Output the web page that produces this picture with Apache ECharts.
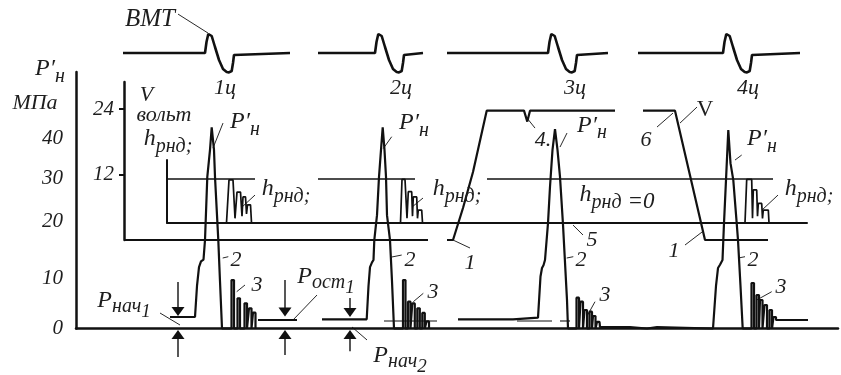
<!DOCTYPE html>
<html>
<head>
<meta charset="utf-8">
<script src="https://cdn.jsdelivr.net/npm/echarts@6/dist/echarts.min.js"></script>
<style>
  html, body { margin: 0; padding: 0; background: #fff; }
  #chart { width: 841px; height: 375px; }
</style>
</head>
<body>
<div id="chart"></div>
<script>
const INK = '#111';
const FONT = 'Liberation Serif';

// t = time (arbitrary units, shared by all traces), P in MPa, V in volts, h relative lift
const pressureTickLabels = ['0', '10', '20', '30', '40'];
const pressureTickAt = [0, 10.6, 22.6, 31.7, 40.2];   // where the figure places its labels
const voltTickAt = [12, 24];

// TDC (ВМТ) marker signal, one piece per cycle
const bmt1 = [[47,0],[129,0],[130.5,0.55],[132.3,0.95],[134,1],[135.7,0.85],[139,0.3],[143,-0.35],[147,-0.8],[150.7,-0.95],[153,-0.97],[155.7,-0.9],[157,-0.5],[158,-0.1],[159,0],[214,0]];
const bmt2 = [[242,0],[299,0],[300.5,0.55],[302.3,0.95],[304,1],[305.7,0.85],[309,0.3],[313,-0.35],[317,-0.8],[320.7,-0.95],[323,-0.97],[325.7,-0.9],[327,-0.5],[328,-0.1],[329,0],[347,0]];
const bmt3 = [[371,0],[472,0],[473.5,0.55],[475.3,0.95],[477,1],[478.7,0.85],[482,0.3],[486,-0.35],[490,-0.8],[493.7,-0.95],[496,-0.97],[498.7,-0.9],[500,-0.5],[501,-0.1],[502,0],[532,0]];
const bmt4 = [[562,0],[647,0],[648.5,0.55],[650.3,0.95],[652,1],[653.7,0.85],[657,0.3],[661,-0.35],[665,-0.8],[668.7,-0.95],[671,-0.97],[673.7,-0.9],[675,-0.5],[676,-0.1],[677,0],[724,0]];

// injector pressure P'н
const pressure1 = [[94,2.43],[119,2.43],[121,9],[123,13],[125,14.2],[127.5,14.6],[129,18.7],[131.3,32.1],[134,37.8],[135.7,42.6],[138,37.8],[139,32.1],[142.3,18.7],[144,10],[146,0],
  [155.5,0],[155.5,10.26],[158,10.26],[158,0],[161.5,0],[161.5,6.39],[164,6.39],[164,0],
  [168.5,0],[168.5,5.33],[171,5.33],[171,0],[173,0],[173,4.28],[175.5,4.28],[175.5,0],
  [177,0],[177,3.34],[179.5,3.34],[179.5,0]];
const residual1 = [[182,1.8],[221,1.8]];
const pressure2 = [[246,1.95],[290.7,1.95],[292.5,9],[294,13],[296,14],[297.5,14.5],[298.3,18.7],[301,24],[303,32.1],[305,37.8],[306.7,42.6],[308.5,37.8],[310,32.1],[311,24],[314,18.7],[316,10],[318,0],
  [327,0],[327,10.26],[329.5,10.26],[329.5,0],[332,0],[332,5.67],[334.5,5.67],[334.5,0],
  [336.3,0],[336.3,5.3],[338.8,5.3],[338.8,0],[341.3,0],[341.3,4.28],[343.8,4.28],[343.8,0],
  [346.3,0],[346.3,3.3],[348.8,3.3],[348.8,0],[350.5,0],[350.5,1.5],[353,1.5],[353,0]];
const pressure34 = [[382,1.95],[437,1.95],[437,2.29],[462,2.29],[464.5,11],[466,12.8],[467.5,13.4],[469,14.5],[472,22.3],[474,30],[476.5,37.8],[479,42.2],[481.5,37.8],[484,32.1],[487,22],[489,14],[491,6],[492,0],
  [500.5,0],[500.5,6.52],[503,6.52],[503,0],[504.5,0],[504.5,5.67],[507,5.67],[507,0],
  [508.5,0],[508.5,3.92],[511,3.92],[511,0],[513.5,0],[513.5,3.56],[516,3.56],[516,0],
  [517,0],[517,2.65],[519.5,2.65],[519.5,0],[521,0],[521,1.4],[523.5,1.4],[524,0.3],[554,0.3],[554,0],
  [571,0],[571,0.3],[581,0.3],[581,0],[637,0],
  [640,9],[642,12.8],[644,13.5],[646.5,14.5],[648,22.3],[650,31.4],[652.3,42],[654.5,35],[657.3,31.4],[660.7,22.3],[662,18.7],[664.5,9],[666.7,0],
  [675.5,0],[675.5,9.63],[678,9.63],[678,0],[680.5,0],[680.5,7.09],[683,7.09],[683,0],
  [684,0],[684,6.03],[686.5,6.03],[686.5,0],[688.5,0],[688.5,4.97],[691,4.97],[691,0],
  [693.5,0],[693.5,3.92],[696,3.92],[696,0],[697.5,0],[697.5,2.43],[700,2.43],[700,1.8],[732,1.8]];
const residualThin = [[[308,1.59],[361,1.59]], [[441,1.59],[476,1.59]], [[484,1.59],[494,1.59]]];

// control voltage V
const volt1 = [[48,0],[352,0]];
const volt2 = [[371,0],[377,0],[387,5.86],[397,12.46],[410.7,23.7],[448,23.7],[451.3,21.7],[454,23.7],[539,23.7]];
const volt3 = [[567,23.7],[599,23.7],[629,0],[692,0]];

// needle lift hрнд
const lift1 = [[150.5,0],[153,0.98],[157,0.98],[159,0.1],[161,0.7],[164.5,0.7],[166,0.15],[167,0.59],[169.5,0.59],[170.5,0.2],[171.5,0.41],[174.5,0.41],[175.5,0]];
const lift2 = [[324.5,0],[326,0.99],[329,0.99],[331,0.1],[332.3,0.71],[335.7,0.71],[336.5,0.15],[337.3,0.59],[340.7,0.59],[341.5,0.1],[342.3,0.29],[345.7,0.29],[346.5,0]];
const lift4 = [[669,0],[670.7,0.99],[675.7,0.99],[676.5,0.1],[677.3,0.75],[680.7,0.75],[681.5,0.15],[682.3,0.44],[685.7,0.44],[686.5,0.1],[687.3,0.29],[692.3,0.29],[693,0]];
const liftLevel = [[[74,1],[179,1]], [[242,1],[339,1]], [[411,1],[697,1]]];

// arrows for Pнач / Pост (P scale)
const arrowShafts = [
  [[102,9.84],[102,4.55]], [[102,-2],[102,-6.03]],
  [[209,10.26],[209,4.34]], [[209,-2],[209,-5.6]],
  [[274,6.46],[274,4.34]], [[274,-2],[274,-4.8]]
];
const arrowDown = [[102,3.6],[209,3.5],[274,3.4]];
const arrowUp = [[102,-1.27],[209,-1.27],[274,-1.27]];

// leader lines (P scale)
const leaders = [
  [[102,66.56],[132,62.54]],
  [[147,43.49],[137,38.2]], [[315.7,40.6],[307.3,38.1]], [[491,41.38],[484,38.41]], [[665.7,36.72],[659,35.66]],
  [[459,42.43],[451,44.55]], [[581,42.65],[597,45.61]], [[621,46.88],[604,43.49]],
  [[179,28.25],[166,25.71]], [[347,27.62],[336,25.71]], [[702,28.25],[686,25.08]],
  [[394,17.04],[377,18.73]], [[609,17.67],[626,20.42]], [[507,19.79],[497,21.9]],
  [[146.7,14.92],[152.3,15.2]], [[315.7,15.13],[325.7,15.55]], [[490.7,14.92],[497.3,15.2]], [[662.3,14.92],[669,15.2]],
  [[169,9.21],[160.7,7.79]], [[347.3,7.45],[337.3,5.67]], [[519,5.67],[510.7,2.5]], [[695.7,7.79],[680.7,6.03]],
  [[84,3.28],[104,0.74]], [[241,7.09],[217,1.8]], [[291,-2.43],[276,0.32]]
];

// text notes [t, P, rich text]
const notes = [
  [74, 65.4, '{c|ВМТ}'],
  [149, 50.9, '{n|1ц}'], [325, 50.9, '{n|2ц}'], [499, 50.9, '{n|3ц}'], [672, 50.9, '{n|4ц}'],
  [-26, 54.3, '{b|P′}{s|н}'],
  [-41, 47.7, '{n|МПа}'],
  [70.5, 49.4, '{n|V}'],
  [88, 45.2, '{n|вольт}'],
  [92, 39.5, '{b|h}{s|рнд;}'],
  [169, 43.1, '{b|P′}{s|н}'], [338, 42.9, '{b|P′}{s|н}'], [516, 42.4, '{b|P′}{s|н}'], [686, 39.5, '{b|P′}{s|н}'],
  [467, 39.9, '{n|4.}'],
  [570, 39.9, '{n|6}'],
  [629, 46.2, '{u|V}'],
  [210, 28.9, '{b|h}{s|рнд;}'], [381, 28.9, '{b|h}{s|рнд;}'], [733, 28.9, '{b|h}{s|рнд;}'],
  [541, 27.6, '{b|h}{s|рнд}{m| =0}'],
  [394, 13.9, '{n|1}'], [598, 16.4, '{n|1}'],
  [516, 18.7, '{n|5}'],
  [160, 14.5, '{n|2}'], [334, 14.5, '{n|2}'], [505, 14.5, '{n|2}'], [677, 14.5, '{n|2}'],
  [181, 9.2, '{n|3}'], [357, 7.7, '{n|3}'], [529, 7.1, '{n|3}'], [705, 8.8, '{n|3}'],
  [48, 5.0, '{bp|P}{sp|нач}{x|1}'],
  [250, 10.05, '{bp|P}{sp|ост}{x|1}'],
  [324, -6.67, '{bp|P}{sp|нач}{x|2}']
];

const txt = (size, extra) => Object.assign({
  fontFamily: FONT, fontStyle: 'italic', fontSize: size, color: '#1e1e1e', verticalAlign: 'bottom'
}, extra || {});
const rich = {
  n: txt(22),
  c: txt(25),
  b: txt(24, { padding: [0, 0, 6, 0] }),
  s: txt(20),
  m: txt(23),
  u: txt(23, { fontStyle: 'normal' }),
  bp: txt(24, { padding: [0, 0, 9, 0] }),
  sp: txt(20, { padding: [0, 0, 5, 0] }),
  x: txt(19)
};

function trace(data, axis, width) {
  return {
    type: 'line', xAxisIndex: axis, yAxisIndex: axis, data: data,
    symbol: 'none', clip: false, silent: true, animation: false,
    lineStyle: { color: INK, width: width }
  };
}

const series = [];
[bmt1, bmt2, bmt3, bmt4].forEach(d => series.push(trace(d, 3, 2.6)));
[volt1, volt2, volt3].forEach(d => series.push(trace(d, 1, 2.2)));
liftLevel.forEach(d => series.push(trace(d, 2, 1.5)));
[lift1, lift2, lift4].forEach(d => series.push(trace(d, 2, 1.7)));
[pressure1, residual1, pressure2, pressure34].forEach(d => series.push(trace(d, 0, 2.2)));
residualThin.forEach(d => series.push(trace(d, 0, 1.1)));
arrowShafts.forEach(d => series.push(trace(d, 0, 1.4)));
leaders.forEach(d => series.push(trace(d, 0, 0.9)));

series.push({
  type: 'scatter', xAxisIndex: 0, yAxisIndex: 0, data: arrowDown, clip: false, silent: true,
  symbol: 'triangle', symbolRotate: 180, symbolSize: [13, 9], itemStyle: { color: INK, opacity: 1 }, animation: false
});
series.push({
  type: 'scatter', xAxisIndex: 0, yAxisIndex: 0, data: arrowUp, clip: false, silent: true,
  symbol: 'triangle', symbolSize: [13, 9], itemStyle: { color: INK, opacity: 1 }, animation: false
});
series.push({
  type: 'scatter', xAxisIndex: 0, yAxisIndex: 0, clip: false, silent: true, animation: false, z: 10,
  symbolSize: 1, itemStyle: { color: 'rgba(255,255,255,0)', opacity: 1 },
  data: notes.map(n => ({ name: n[2], value: [n[0], n[1]] })),
  label: { show: true, position: 'inside', formatter: p => p.name, rich: rich }
});

const axisFont = { fontFamily: FONT, fontStyle: 'italic', fontSize: 21, color: '#1e1e1e' };
const hidden = { show: false };

const option = {
  backgroundColor: '#fff',
  animation: false,
  grid: [
    { left: 76, right: 3, top: 72, bottom: 46.5, outerBoundsMode: 'none' },
    { left: 124, right: 3, top: 82, bottom: 135, outerBoundsMode: 'none' },
    { left: 167, right: 34, top: 160, bottom: 152.3, outerBoundsMode: 'none' },
    { left: 76, right: 3, top: 31, bottom: 300, outerBoundsMode: 'none' }
  ],
  xAxis: [
    { gridIndex: 0, type: 'value', min: 0, max: 762,
      axisLine: { show: true, onZero: false, lineStyle: { color: INK, width: 2.5 } },
      axisTick: hidden, axisLabel: hidden, splitLine: hidden },
    { gridIndex: 1, type: 'value', min: 48, max: 762, show: false },
    { gridIndex: 2, type: 'value', min: 91, max: 731,
      axisLine: { show: true, onZero: false, lineStyle: { color: INK, width: 2 } },
      axisTick: hidden, axisLabel: hidden, splitLine: hidden },
    { gridIndex: 3, type: 'value', min: 0, max: 762, show: false }
  ],
  yAxis: [
    { gridIndex: 0, type: 'value', min: 0, max: 54.3,
      axisLine: { show: true, lineStyle: { color: INK, width: 2.5 } },
      axisTick: hidden, splitLine: hidden,
      axisLabel: Object.assign({
        margin: 13, customValues: pressureTickAt,
        formatter: v => {
          let best = 0;
          pressureTickAt.forEach((a, i) => { if (Math.abs(a - v) < Math.abs(pressureTickAt[best] - v)) best = i; });
          return pressureTickLabels[best];
        }
      }, axisFont) },
    { gridIndex: 1, type: 'value', min: 0, max: 28.95,
      axisLine: { show: true, lineStyle: { color: INK, width: 2.5 } },
      axisTick: { show: true, customValues: voltTickAt, length: 5, lineStyle: { color: INK, width: 2 } },
      splitLine: hidden,
      axisLabel: Object.assign({ margin: 10, customValues: voltTickAt }, axisFont) },
    { gridIndex: 2, type: 'value', min: 0, max: 1.435,
      axisLine: { show: true, lineStyle: { color: INK, width: 2 } },
      axisTick: hidden, axisLabel: hidden, splitLine: hidden },
    { gridIndex: 3, type: 'value', min: -1.1, max: 1.1, show: false }
  ],
  series: series
};

const chart = echarts.init(document.getElementById('chart'), null, { renderer: 'canvas' });
chart.setOption(option);
</script>
</body>
</html>
